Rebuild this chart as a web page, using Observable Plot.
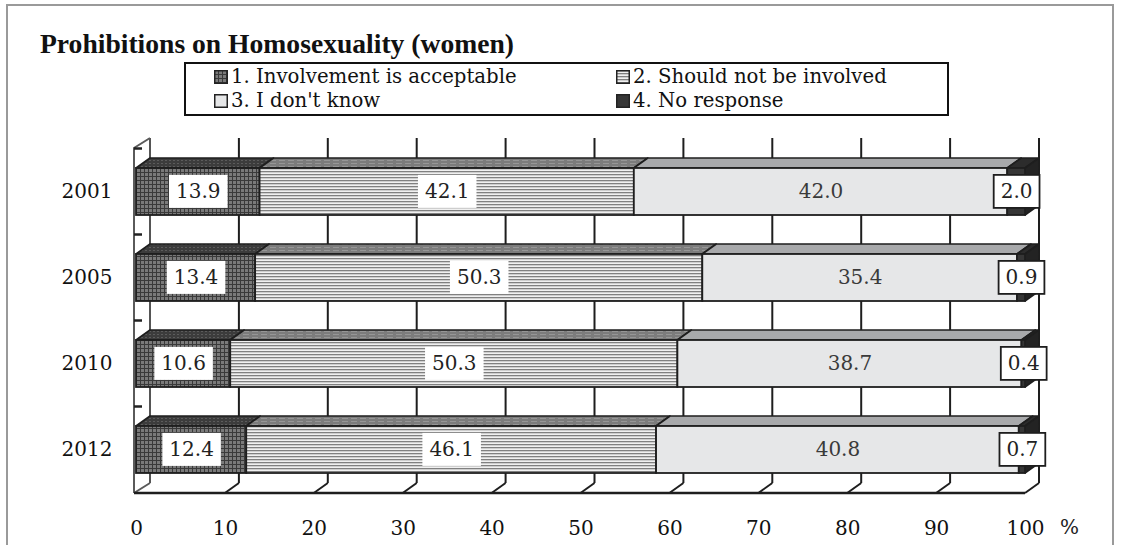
<!DOCTYPE html>
<html><head><meta charset="utf-8">
<script src="https://cdn.jsdelivr.net/npm/d3@7"></script>
<script src="https://cdn.jsdelivr.net/npm/@observablehq/plot@0.6"></script>
<style>
html,body{margin:0;padding:0;background:#fff;width:1125px;height:545px;overflow:hidden;}
#frame{position:absolute;left:6px;top:4px;width:1108px;height:620px;border:2px solid #9a9a9a;box-sizing:border-box;}
#title{position:absolute;left:40px;top:30px;font:bold 27.6px "Liberation Serif",serif;line-height:27px;color:#111;white-space:nowrap;}
#legend{position:absolute;left:184px;top:62px;width:765px;height:54px;border:2px solid #111;box-sizing:border-box;font:19.7px "DejaVu Serif",serif;color:#111;display:grid;grid-template-columns:402px auto;grid-auto-rows:24px;padding-left:28px;padding-top:1px;}
.item{height:24px;line-height:24px;white-space:nowrap;display:flex;align-items:center;}
.item svg{margin-right:3px;flex:none;}
#chart{position:absolute;left:0;top:120px;width:1125px;height:425px;}
</style></head><body>
<svg width="0" height="0" style="position:absolute;left:0;top:0"><defs>
  <pattern id="p1" width="4" height="4" patternUnits="userSpaceOnUse">
    <rect width="4" height="4" fill="#3a3a3a"/><rect x="1" y="1" width="3" height="3" fill="#7a7a7a"/>
  </pattern>
  <pattern id="p1top" width="4" height="3" patternUnits="userSpaceOnUse">
    <rect width="4" height="3" fill="#3c3c3c"/><rect x="1" y="1" width="2" height="1" fill="#5c5c5c"/>
  </pattern>
  <pattern id="p2" width="8" height="3" patternUnits="userSpaceOnUse">
    <rect width="8" height="3" fill="#f0f0f0"/><rect y="0" width="8" height="1.3" fill="#808080"/>
  </pattern>
  <pattern id="p2top" width="9" height="3" patternUnits="userSpaceOnUse">
    <rect width="9" height="3" fill="#7c7c7c"/><rect y="1" width="6" height="1" fill="#969696"/>
  </pattern>
</defs></svg>
<div id="frame"></div>
<div id="title"></div>
<div id="legend"></div>
<div id="chart"></div>
<script>
// ---- data ----
const title = "Prohibitions on Homosexuality (women)";
const years = ["2001", "2005", "2010", "2012"];
const categories = ["1. Involvement is acceptable", "2. Should not be involved", "3. I don't know", "4. No response"];
const acceptable = [13.9, 13.4, 10.6, 12.4];
const shouldNot = [42.1, 50.3, 50.3, 46.1];
const dontKnow = [42.0, 35.4, 38.7, 40.8];
const noResponse = [2.0, 0.9, 0.4, 0.7];
const xTicks = [0, 10, 20, 30, 40, 50, 60, 70, 80, 90, 100];
const unitLabel = "%";

// ---- styles ----
const frontFill = ["url(#p1)", "url(#p2)", "#e6e7e8", "#363636"];
const topFill = ["url(#p1top)", "url(#p2top)", "#a8a9ab", "#2c2c2c"];
const sideFill = "#232323";
const DX = 14, DY = -10;

// ---- table ----
const series = [acceptable, shouldNot, dontKnow, noResponse];
const rows = [];
years.forEach((year, i) => {
  let acc = 0;
  series.forEach((s, k) => {
    rows.push({year, k, category: categories[k], value: s[i], x1: acc, x2: acc + s[i]});
    acc += s[i];
  });
});

document.getElementById("title").textContent = title;
const legend = document.getElementById("legend");
[0, 1, 2, 3].forEach(k => {
  const item = document.createElement("div");
  item.className = "item";
  item.innerHTML = `<svg width="14" height="14"><rect x="0.75" y="0.75" width="12.5" height="12.5" fill="${frontFill[k]}" stroke="#222" stroke-width="1.5"/></svg>`;
  item.append(document.createTextNode(categories[k]));
  legend.append(item);
});

function bw(y) { return typeof y.bandwidth === "function" ? y.bandwidth() : y.bandwidth; }

function walls(index, scales, values, dims) {
  const x = scales.x, y = scales.y;
  const top = dims.marginTop, bottom = dims.height - dims.marginBottom;
  const x0 = x(0), x100 = x(100);
  const step = y(years[1]) - y(years[0]);
  const b = bw(y);
  const g = d3.create("svg:g").attr("fill", "none");
  xTicks.forEach(t => {
    g.append("line").attr("x1", x(t) + DX).attr("x2", x(t) + DX).attr("y1", top + DY).attr("y2", bottom + DY)
      .attr("stroke", t === 0 ? "#555" : "#1e1e1e").attr("stroke-width", 2);
    if (t > 0) g.append("line").attr("x1", x(t) + DX).attr("y1", bottom + DY).attr("x2", x(t)).attr("y2", bottom)
      .attr("stroke", "#1e1e1e").attr("stroke-width", 2);
  });
  g.append("path").attr("d", `M${x0 - 2},${bottom}L${x0 - 2},${top}L${x0 + DX},${top + DY}M${x0 - 2},${bottom}L${x0 + DX},${bottom + DY}`)
    .attr("stroke", "#5a5a5a").attr("stroke-width", 2);
  g.append("line").attr("x1", x0 - 2).attr("x2", x100).attr("y1", bottom).attr("y2", bottom)
    .attr("stroke", "#1e1e1e").attr("stroke-width", 2.5);
  years.forEach(yr => {
    const yb = y(yr) - (step - b) / 2;
    g.append("line").attr("x1", x0 - 2).attr("x2", x0 + 6).attr("y1", yb).attr("y2", yb)
      .attr("stroke", "#222").attr("stroke-width", 2.5);
  });
  return g.node();
}

function faces(index, scales) {
  const x = scales.x, y = scales.y;
  const b = bw(y);
  const g = d3.create("svg:g").attr("stroke", "#1e1e1e").attr("stroke-width", 1.6).attr("stroke-linejoin", "round");
  rows.forEach(r => {
    const yt = y(r.year), a = x(r.x1), c = x(r.x2);
    g.append("path").attr("d", `M${a},${yt}L${c},${yt}L${c + DX},${yt + DY}L${a + DX},${yt + DY}Z`).attr("fill", topFill[r.k]);
  });
  rows.filter(r => r.k === 3).forEach(r => {
    const yt = y(r.year), yb = yt + b, e = x(r.x2);
    g.append("path").attr("d", `M${e},${yt}L${e + DX},${yt + DY}L${e + DX},${yb + DY}L${e},${yb}Z`).attr("fill", sideFill);
  });
  return g.node();
}

const mid = r => (r.x1 + r.x2) / 2;
const fmt = r => r.value.toFixed(1);

const plot = Plot.plot({
  width: 1125, height: 425,
  marginLeft: 136, marginRight: 100, marginTop: 28, marginBottom: 52,
  style: {fontFamily: '"DejaVu Serif", serif', fontSize: "20px", color: "#111", background: "transparent", overflow: "visible"},
  x: {domain: [0, 100], ticks: xTicks, tickSize: 0, tickPadding: 27, label: null, tickFormat: d => String(d)},
  y: {domain: years, paddingInner: 0.455, paddingOuter: 0.2275, tickSize: 0, tickPadding: 24, label: null},
  marks: [
    walls,
    faces,
    ...categories.map((c, k) => Plot.barX(rows.filter(r => r.k === k), {
      x1: "x1", x2: "x2", y: "year", fill: frontFill[k], stroke: "#1e1e1e", strokeWidth: 1.8
    })),
    Plot.text(rows.filter(r => r.k < 2), {x: mid, y: "year", text: fmt, fill: "#222", ariaDescription: "boxed"}),
    Plot.text(rows.filter(r => r.k === 2), {x: mid, y: "year", text: fmt, fill: "#3a3a3a"}),
    Plot.text(rows.filter(r => r.k === 3), {x: mid, y: "year", text: fmt, fill: "#222", ariaDescription: "bordered"}),
    Plot.text([{v: 100, t: unitLabel}], {x: "v", text: "t", frameAnchor: "bottom", dx: 44, dy: 40, fill: "#222"})
  ]
});
document.getElementById("chart").append(plot);

[["boxed", false], ["bordered", true]].forEach(([name, border]) => {
  d3.select(plot).selectAll(`g[aria-description="${name}"] text`).each(function () {
    const bb = this.getBBox();
    const cy = bb.y + bb.height / 2;
    const r = document.createElementNS("http://www.w3.org/2000/svg", "rect");
    r.setAttribute("x", bb.x - 7);
    r.setAttribute("width", bb.width + 14);
    r.setAttribute("y", cy - 16.5);
    r.setAttribute("height", 33);
    r.setAttribute("fill", "#fff");
    if (border) { r.setAttribute("stroke", "#1e1e1e"); r.setAttribute("stroke-width", 1.8); }
    const tr = this.getAttribute("transform");
    if (tr) r.setAttribute("transform", tr);
    this.parentNode.insertBefore(r, this);
  });
});
</script>
</body></html>
